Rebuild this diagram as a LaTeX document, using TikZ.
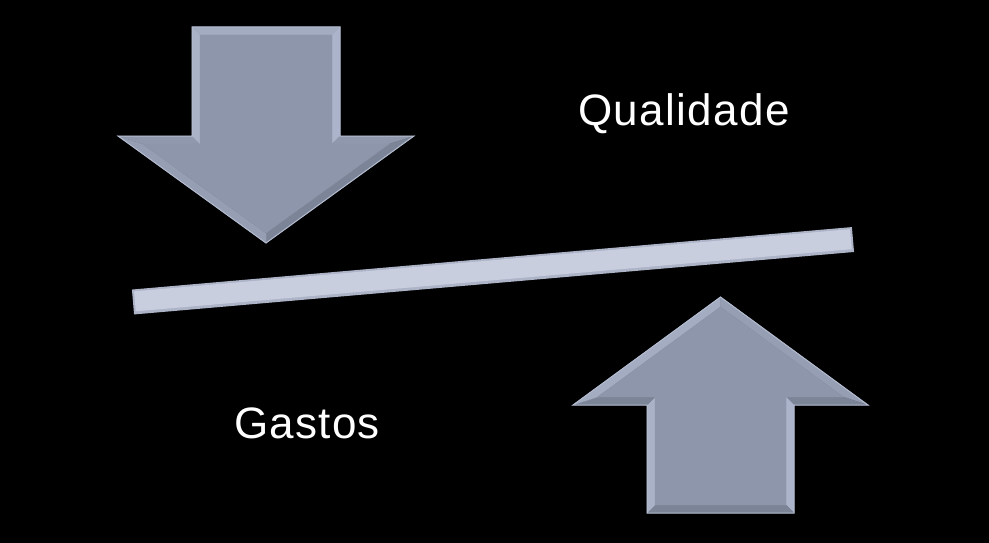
\documentclass[tikz,border=0pt]{standalone}
\usepackage{fontspec}
\setmainfont{Liberation Sans}
\begin{document}
\begin{tikzpicture}[x=1pt,y=-1pt,
  facet/.style={line width=0.3pt,draw=#1,fill=#1},
  face/.style={fill=arrowmain,draw=arrowmain,line width=0.3pt},
  rim/.style={draw=rimcol,line width=1pt,line join=miter},
  lbl/.style={text=white,font=\fontsize{44}{48}\selectfont\addfontfeature{LetterSpace=3},anchor=base,inner sep=0pt}]
\definecolor{arrowmain}{HTML}{8D96AA}
\definecolor{rimcol}{HTML}{B4BCD0}
\definecolor{fTop}{HTML}{A3ACC1}
\definecolor{fLeft}{HTML}{A9B2C7}
\definecolor{fRight}{HTML}{ABB4CA}
\definecolor{fUp}{HTML}{8F98AC}
\definecolor{fDown}{HTML}{7C8497}
\definecolor{fDownL}{HTML}{959EB3}
\definecolor{barOut}{HTML}{AEB4C7}
\definecolor{barIn}{HTML}{C9CEDF}
\fill[black] (0,0) rectangle (989,543);
\useasboundingbox (0,0) rectangle (989,543);

% ---------- down arrow ----------
\coordinate (dA) at (192,27);   \coordinate (dA1) at (200,35);
\coordinate (dB) at (340,27);   \coordinate (dB1) at (332,35);
\coordinate (dC) at (340,136);  \coordinate (dC1) at (332,144);
\coordinate (dD) at (414,136);  \coordinate (dD1) at (389.3,144);
\coordinate (dE) at (266,243);  \coordinate (dE1) at (266,233.1);
\coordinate (dF) at (118,136);  \coordinate (dF1) at (142.7,144);
\coordinate (dG) at (192,136);  \coordinate (dG1) at (200,144);
\fill[facet=fTop]   (dA)--(dB)--(dB1)--(dA1)--cycle;
\fill[facet=fRight] (dB)--(dC)--(dC1)--(dB1)--cycle;
\fill[facet=fUp]    (dC)--(dD)--(dD1)--(dC1)--cycle;
\fill[facet=fDown]  (dD)--(dE)--(dE1)--(dD1)--cycle;
\fill[facet=fDownL] (dE)--(dF)--(dF1)--(dE1)--cycle;
\fill[facet=fUp]    (dF)--(dG)--(dG1)--(dF1)--cycle;
\fill[facet=fLeft]  (dG)--(dA)--(dA1)--(dG1)--cycle;
\path[face] (dA1)--(dB1)--(dC1)--(dD1)--(dE1)--(dF1)--(dG1)--cycle;
\draw[rim] (dA)--(dB)--(dC)--(dD)--(dE)--(dF)--(dG)--cycle;

% ---------- up arrow ----------
\coordinate (uT) at (720.5,297);  \coordinate (uT1) at (720.5,306.9);
\coordinate (uR) at (868,405);    \coordinate (uR1) at (843.5,397);
\coordinate (uSR) at (794,405);   \coordinate (uSR1) at (786,397);
\coordinate (uBR) at (794,513);   \coordinate (uBR1) at (786,505);
\coordinate (uBL) at (647,513);   \coordinate (uBL1) at (655,505);
\coordinate (uSL) at (647,405);   \coordinate (uSL1) at (655,397);
\coordinate (uL) at (573,405);    \coordinate (uL1) at (597.5,397);
\fill[facet=fDownL] (uT)--(uR)--(uR1)--(uT1)--cycle;
\fill[facet=fDown]  (uR)--(uSR)--(uSR1)--(uR1)--cycle;
\fill[facet=fRight] (uSR)--(uBR)--(uBR1)--(uSR1)--cycle;
\fill[facet=fDown]  (uBR)--(uBL)--(uBL1)--(uBR1)--cycle;
\fill[facet=fLeft]  (uBL)--(uSL)--(uSL1)--(uBL1)--cycle;
\fill[facet=fDown]  (uSL)--(uL)--(uL1)--(uSL1)--cycle;
\fill[facet=fTop]   (uL)--(uT)--(uT1)--(uL1)--cycle;
\path[face] (uT1)--(uR1)--(uSR1)--(uBR1)--(uBL1)--(uSL1)--(uL1)--cycle;
\draw[rim] (uT)--(uR)--(uSR)--(uBR)--(uBL)--(uSL)--(uL)--cycle;

% ---------- bar ----------
\begin{scope}[shift={(133,302)},rotate=4.96]
  \fill[barOut] (0,-12.5) rectangle (722.7,12.5);
  \fill[barIn] (2,-10.5) rectangle (720.7,9.5);
\end{scope}

% ---------- labels ----------
\node[lbl] (qual) at (684,125) {Qualidade};
\node[lbl] (gast) at (307,438) {Gastos};
\end{tikzpicture}
\end{document}
